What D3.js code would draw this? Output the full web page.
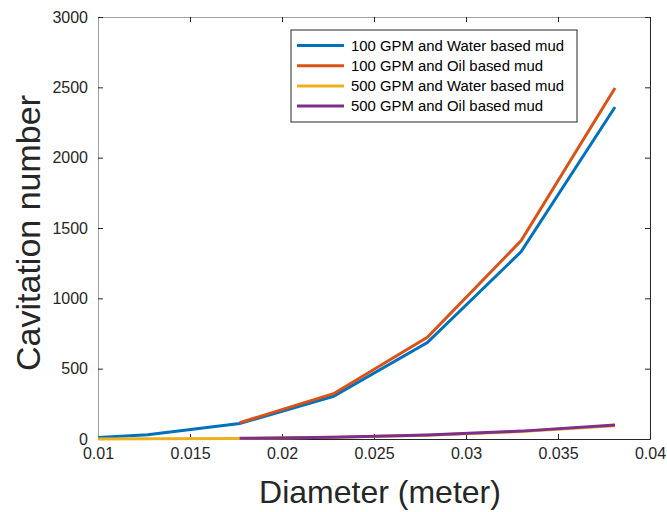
<!DOCTYPE html>
<html><head><meta charset="utf-8">
<script src="https://cdn.jsdelivr.net/npm/d3@7"></script>
<style>body{margin:0;background:#fff}svg{display:block;font-family:"Liberation Sans",Arial,sans-serif}</style>
</head><body><svg id="c" width="667" height="512"></svg>
<script>
const diameters = [0.01, 0.0127, 0.0177, 0.0228, 0.0279, 0.033, 0.0381];
const seriesNames = ["100 GPM and Water based mud","100 GPM and Oil based mud","500 GPM and Water based mud","500 GPM and Oil based mud"];
const water100 = [11, 30, 110, 303, 685, 1332, 2360];
const oil100 = [null, null, 116, 322, 723, 1410, 2495];
const water500 = [0.45, 1.2, 4.4, 12, 27, 53, 94];
const oil500 = [null, null, 4.6, 13, 29, 56, 100];
const xTicks = [0.01,0.015,0.02,0.025,0.03,0.035,0.04];
const yTicks = [0,500,1000,1500,2000,2500,3000];
const colors = ["#0072BD","#D95319","#EDB120","#7E2F8E"];

const L=98,R=650,T=17,B=439;
const svg=d3.select("#c");
const x=d3.scaleLinear().domain([0.01,0.04]).range([L,R]);
const y=d3.scaleLinear().domain([0,3000]).range([B,T]);
const tc="#262626";

// axes
const gx=svg.append("g").attr("transform",`translate(0,${B})`).call(d3.axisBottom(x).tickValues(xTicks).tickSizeInner(-5).tickSizeOuter(0).tickPadding(9).tickFormat(d=>String(+d.toFixed(3))));
const gxt=svg.append("g").attr("transform",`translate(0,${T})`).call(d3.axisTop(x).tickValues(xTicks).tickSizeInner(-5).tickSizeOuter(0).tickFormat(""));
const gy=svg.append("g").attr("transform",`translate(${L},0)`).call(d3.axisLeft(y).tickValues(yTicks).tickSizeInner(-5).tickSizeOuter(0).tickPadding(10).tickFormat(d=>String(d)));
const gyr=svg.append("g").attr("transform",`translate(${R},0)`).call(d3.axisRight(y).tickValues(yTicks).tickSizeInner(-5).tickSizeOuter(0).tickFormat(""));
[gx,gy].forEach(g=>g.selectAll("text").attr("fill",tc).style("font-size","16px"));
[gx,gxt,gy,gyr].forEach(g=>g.selectAll(".tick line").attr("stroke",tc));
gx.select(".domain").attr("stroke",tc);
gyr.select(".domain").attr("stroke",tc);
gxt.select(".domain").attr("stroke","#a0a0a0");
gy.select(".domain").attr("stroke","#a0a0a0");
gx.selectAll("text").attr("dy","0.71em");

// lines
const all=[water100,oil100,water500,oil500];
const line=d3.line().defined(d=>d[1]!=null).x(d=>x(d[0])).y(d=>y(d[1]));
all.forEach((s,i)=>{
  svg.append("path").datum(diameters.map((d,j)=>[d,s[j]])).attr("d",line)
    .attr("fill","none").attr("stroke",colors[i]).attr("stroke-width",3);
});

// legend
const lg=svg.append("g");
lg.append("rect").attr("x",291).attr("y",30).attr("width",286).attr("height",92).attr("fill","#fff").attr("stroke","#262626").attr("stroke-width",1);
seriesNames.forEach((n,i)=>{
  const yy=45.5+i*20.2;
  lg.append("line").attr("x1",297).attr("x2",344).attr("y1",yy).attr("y2",yy).attr("stroke",colors[i]).attr("stroke-width",3);
  lg.append("text").attr("x",351).attr("y",yy).attr("dy","0.35em").attr("fill","#000").style("font-size","14.9px").text(n);
});

// titles
svg.append("text").attr("x",380).attr("y",503).attr("text-anchor","middle").attr("fill",tc).style("font-size","32px").text("Diameter (meter)");
svg.append("text").attr("transform",`translate(40,233) rotate(-90)`).attr("text-anchor","middle").attr("fill",tc).style("font-size","34px").text("Cavitation number");
</script></body></html>
